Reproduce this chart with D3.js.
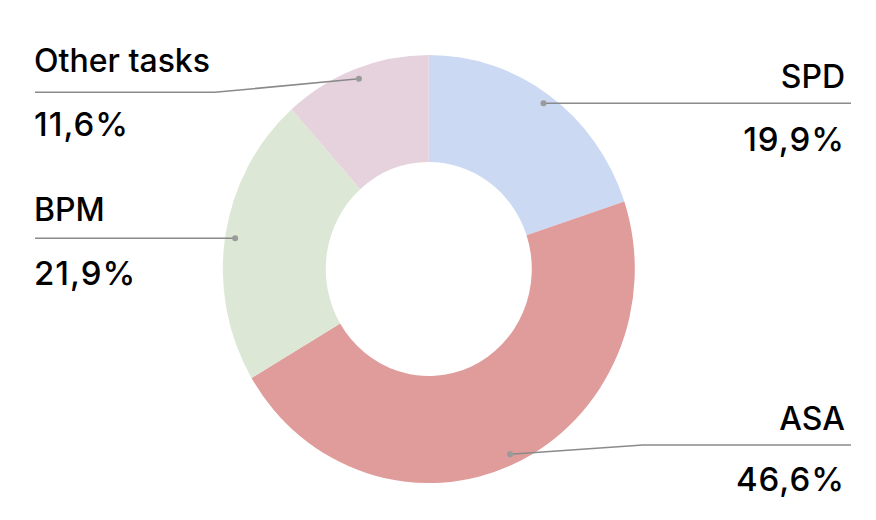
<!DOCTYPE html>
<html><head><meta charset="utf-8">
<script src="https://cdn.jsdelivr.net/npm/d3@7"></script>
<style>body{margin:0;background:#fff}svg{display:block}text{font-family:Inter,"Noto Sans",sans-serif;font-weight:500;fill:#000}</style>
</head><body>
<script>
const categories = ["SPD", "ASA", "BPM", "Other tasks"];
const values = [19.9, 46.6, 21.9, 11.6];
const valueLabels = ["19,9%", "46,6%", "21,9%", "11,6%"];
const colors = ["#cbd9f3", "#df9c9b", "#dce8d5", "#e6d2dc"];

const W = 876, H = 520;
const cx = 428.8, cy = 269, R = 206, r = 103, sy = 1.039;
const svg = d3.select("body").append("svg").attr("width", W).attr("height", H);

const pie = d3.pie().sort(null).value(d => d)(values);
const arc = d3.arc().innerRadius(r).outerRadius(R);
const g = svg.append("g").attr("transform", `translate(${cx},${cy}) scale(1,${sy})`);
g.selectAll("path").data(pie).join("path").attr("d", arc).attr("fill", (d, i) => colors[i]);

const dotArc = d3.arc().innerRadius(196).outerRadius(196);
const layout = [
  {side: "right", ly: 103.3, ex: null, tx: 845, ty: 88, vy: 151},
  {side: "right", ly: 445, ex: 643, tx: 845, ty: 430, vy: 491},
  {side: "left", ly: 238.3, ex: null, tx: 34, ty: 221, vy: 285},
  {side: "left", ly: 92.3, ex: 215, tx: 34, ty: 72, vy: 136}
];
pie.forEach((d, i) => {
  const c = dotArc.centroid(d);
  const px = cx + c[0], py = cy + c[1] * sy;
  const L = layout[i];
  const endX = L.side === "right" ? 851 : 35;
  const pts = [[px, L.ex === null ? L.ly : py]];
  if (L.ex !== null) pts.push([L.ex, L.ly]);
  pts.push([endX, L.ly]);
  svg.append("path").attr("d", d3.line()(pts)).attr("fill", "none").attr("stroke", "#8a8a8a").attr("stroke-width", 1.5);
  svg.append("circle").attr("cx", px).attr("cy", L.ex === null ? L.ly : py).attr("r", 3).attr("fill", "#9a9a9a");
  const anchor = L.side === "right" ? "end" : "start";
  svg.append("text").attr("x", L.tx).attr("y", L.ty).attr("text-anchor", anchor).attr("font-size", 32).text(categories[i]);
  svg.append("text").attr("x", L.tx).attr("y", L.vy).attr("text-anchor", anchor).attr("font-size", 33).attr("letter-spacing", 1).text(valueLabels[i]);
});
</script>
</body></html>
